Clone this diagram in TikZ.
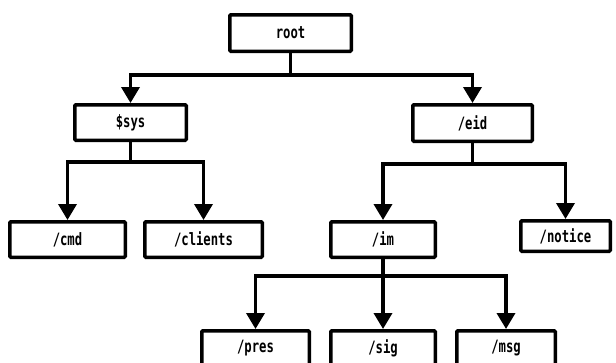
\documentclass[tikz,border=0pt]{standalone}
\usepackage{fontspec}
\newfontfamily\dirfont{DejaVu Sans Mono}[FakeStretch=0.72]
\usepackage{tikz}
\usetikzlibrary{arrows.meta, positioning}

\begin{document}
\begin{tikzpicture}[
  x=1pt, y=1pt,
  dir/.style={rectangle, rounded corners=1pt, draw, line width=3.5pt, fill=white,
              minimum height=35.5pt, inner sep=0pt,
              font=\dirfont\bfseries\fontsize{17}{19}\selectfont},
  arr/.style={-{Triangle[width=18pt, length=16pt]}, line width=3.5pt},
]
\useasboundingbox (0,0) rectangle (616,-362);

\node[dir, minimum width=121.5pt, minimum height=36.5pt] (root) at (290.5,-33) {root};
\node[dir, minimum width=111.5pt, below=50pt of root, xshift=-160pt] (sys) {\$sys};
\node[dir, minimum width=119.5pt, minimum height=36.5pt, below=50pt of root, xshift=182pt] (eid) {/eid};
\node[dir, minimum width=115.5pt, below=78pt of sys, xshift=-63pt] (cmd) {/cmd};
\node[dir, minimum width=117.5pt, below=78pt of sys, xshift=73pt] (clients) {/clients};
\node[dir, minimum width=104.5pt, below=77pt of eid, xshift=-89.5pt] (im) {/im};
\node[dir, minimum width=89.5pt, minimum height=30.5pt, below=76pt of eid, xshift=93pt] (notice) {/notice};
\node[dir, minimum width=107.5pt, below=70pt of im, xshift=-127.5pt] (pres) {/pres};
\node[dir, minimum width=104.5pt, below=70pt of im] (sig) {/sig};
\node[dir, minimum width=98.5pt, below=70pt of im, xshift=123pt] (msg) {/msg};

\draw[arr] (root.south) -- ++(0,-22) -| (sys.north);
\draw[arr] (root.south) -- ++(0,-22) -| (eid.north);
\draw[arr] (sys.south) -- ++(0,-20) -| (cmd.north);
\draw[arr] (sys.south) -- ++(0,-20) -| (clients.north);
\draw[arr] (eid.south) -- ++(0,-21) -| (im.north);
\draw[arr] (eid.south) -- ++(0,-21) -| (notice.north);
\draw[arr] (im.south) -- ++(0,-17) -| (pres.north);
\draw[arr] (im.south) -- (sig.north);
\draw[arr] (im.south) -- ++(0,-17) -| (msg.north);

\end{tikzpicture}
\end{document}
